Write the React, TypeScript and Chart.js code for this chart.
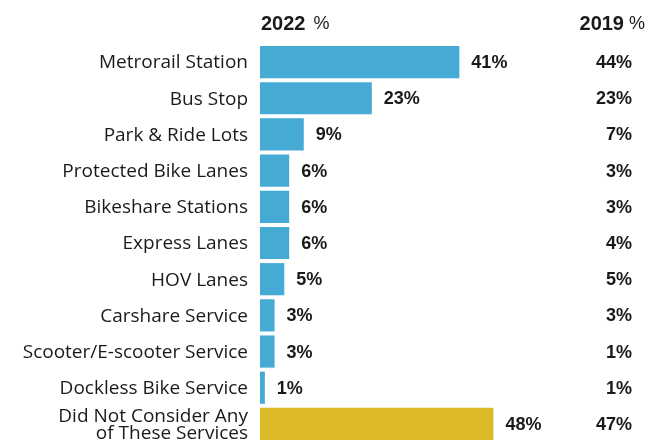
import React, { useEffect, useRef } from "react";
import { Chart, registerables } from "chart.js";

Chart.register(...registerables);

const categories: (string | string[])[] = [
  "Metrorail Station",
  "Bus Stop",
  "Park & Ride Lots",
  "Protected Bike Lanes",
  "Bikeshare Stations",
  "Express Lanes",
  "HOV Lanes",
  "Carshare Service",
  "Scooter/E-scooter Service",
  "Dockless Bike Service",
  ["Did Not Consider Any", "of These Services"],
];
const values2022 = [41, 23, 9, 6, 6, 6, 5, 3, 3, 1, 48];
const values2019 = [44, 23, 7, 3, 3, 4, 5, 3, 1, 1, 47];
const barColors = [
  "#45AAD4", "#45AAD4", "#45AAD4", "#45AAD4", "#45AAD4", "#45AAD4",
  "#45AAD4", "#45AAD4", "#45AAD4", "#45AAD4", "#DCBA27",
];

const FONT = "'Liberation Sans', Arial, sans-serif";
const LABEL_FONT = "'Open Sans', 'Liberation Sans', sans-serif";

const labelPlugin = {
  id: "labels",
  afterDatasetsDraw(chart: any) {
    const ctx = chart.ctx;
    const meta = chart.getDatasetMeta(0);
    const area = chart.chartArea;
    ctx.save();
    ctx.fillStyle = "#1a1a1a";
    ctx.textBaseline = "middle";
    // headers
    ctx.font = `bold 20px ${FONT}`;
    ctx.textAlign = "left";
    ctx.fillText("2022", area.left + 1, 24);
    const w1 = ctx.measureText("2022").width;
    ctx.font = `18px ${FONT}`;
    ctx.fillText("%", area.left + 1 + w1 + 8, 24);
    ctx.textAlign = "right";
    ctx.fillText("%", 645, 24);
    const wp = ctx.measureText("%").width;
    ctx.font = `bold 20px ${FONT}`;
    ctx.fillText("2019", 645 - wp - 5, 24);
    // category labels
    ctx.font = `19px ${LABEL_FONT}`;
    ctx.textAlign = "right";
    meta.data.forEach((bar: any, i: number) => {
      const lab = categories[i];
      const lines = Array.isArray(lab) ? lab : [lab];
      const lh = 16.5;
      lines.forEach((ln, j) => {
        ctx.fillText(ln, 248, bar.y + (j - (lines.length - 1) / 2) * lh + 1);
      });
    });
    // values
    ctx.font = `bold 18px ${FONT}`;
    meta.data.forEach((bar: any, i: number) => {
      ctx.textAlign = "left";
      ctx.fillText(values2022[i] + "%", bar.x + 12, bar.y + 1);
      ctx.textAlign = "right";
      ctx.fillText(values2019[i] + "%", 632, bar.y + 1);
    });
    ctx.restore();
  },
};

export default function App() {
  const ref = useRef<HTMLCanvasElement>(null);
  useEffect(() => {
    document.body.style.margin = "0";
    const chart = new Chart(ref.current!, {
      type: "bar",
      data: {
        labels: categories,
        datasets: [
          {
            data: values2022,
            backgroundColor: barColors,
            categoryPercentage: 1,
            barPercentage: 0.89,
            borderWidth: 0,
          },
        ],
      },
      options: {
        indexAxis: "y",
        animation: false,
        responsive: false,
        layout: { padding: { top: 44, bottom: 6, left: 260, right: 0 } },
        plugins: { legend: { display: false }, tooltip: { enabled: false } },
        scales: {
          x: { display: false, min: 0, max: 80 },
          y: { display: false },
        },
      },
      plugins: [labelPlugin],
    });
    return () => chart.destroy();
  }, []);
  return <canvas ref={ref} width={649} height={448} style={{ display: "block" }} />;
}
